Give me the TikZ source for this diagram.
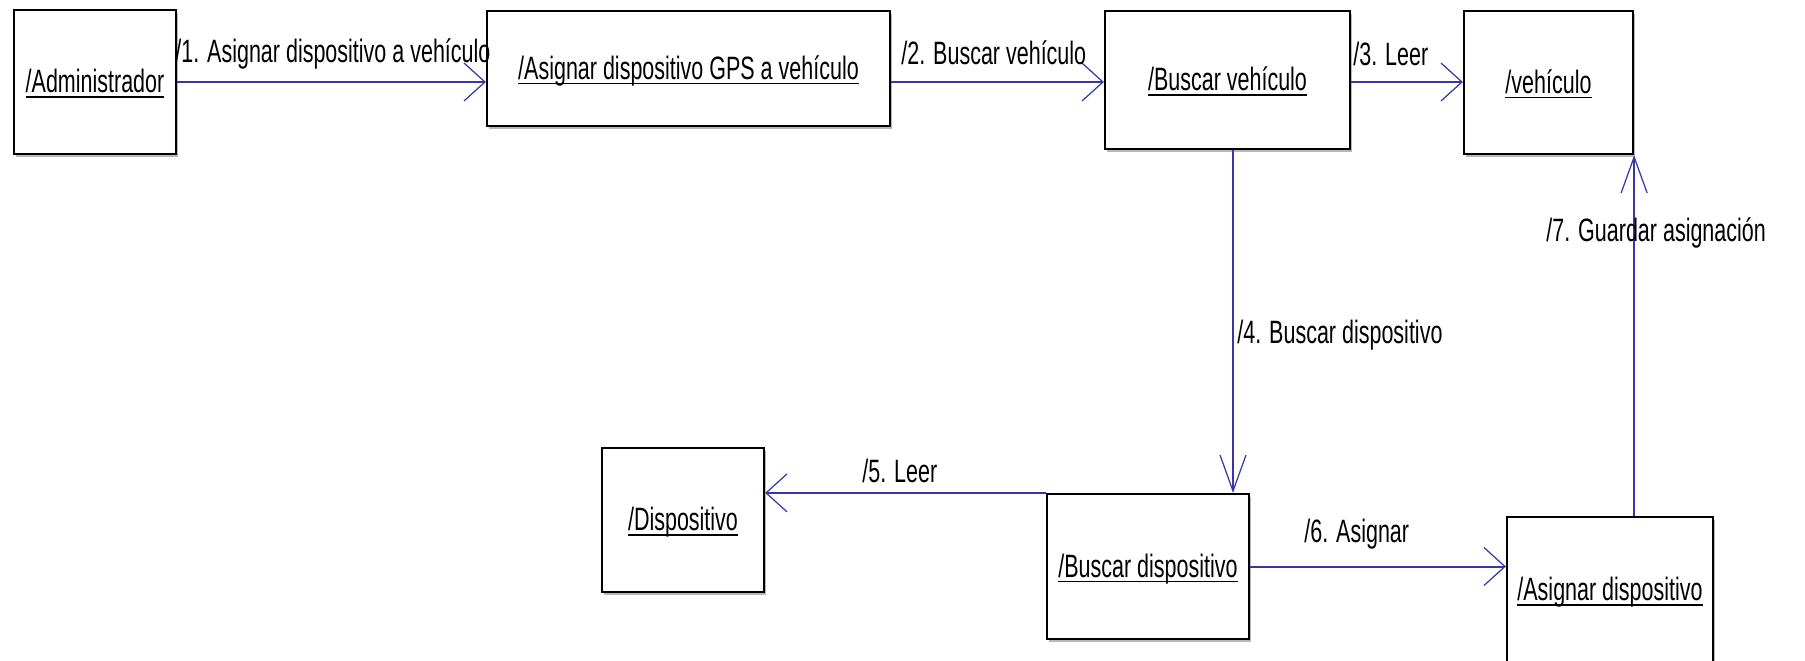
\documentclass[tikz,border=0pt]{standalone}
\usepackage{fontspec}
\setmainfont[FakeStretch=0.665]{Liberation Sans}
\usetikzlibrary{arrows.meta,shadows}
\definecolor{msgline}{RGB}{55,55,165}
% object name, underlined with a rule of fixed depth below the baseline
\newcommand\uname[1]{\setbox0=\hbox{#1}\dp0=0pt\vtop{\copy0\kern2pt\hrule height 1.1pt}}
\newcommand\diagfont{\fontsize{18.4}{21}\selectfont}
\begin{document}
\begin{tikzpicture}[x=0.02cm,y=-0.02cm,
  obj/.style={rectangle, draw=black, line width=1.3pt, fill=white, inner sep=0pt,
    text height=0.5cm, text depth=0.08cm, font=\diagfont,
    drop shadow={shadow xshift=1.2pt, shadow yshift=-1.6pt, opacity=0.28, fill=black}},
  msg/.style={draw=msgline, line width=1.15pt},
  hArrow/.style={-{Straight Barb[length=0.42cm,width=0.76cm,line width=0.7pt]}},
  vArrow/.style={-{Straight Barb[length=0.72cm,width=0.52cm,line width=0.7pt]}},
  lbl/.style={anchor=base west, inner sep=0pt, font=\diagfont}]

\clip (0,0) rectangle (1805,660);
\fill[white] (0,0) rectangle (1805,660);

% objects
\node[obj, minimum width=3.24cm, minimum height=2.88cm] (adm)   at (95,82)      {\uname{/Administrador}};
\node[obj, minimum width=8.06cm, minimum height=2.30cm] (asg)   at (688.5,68.5) {\uname{/Asignar dispositivo GPS a vehículo}};
\node[obj, minimum width=4.90cm, minimum height=2.76cm] (bveh)  at (1227.5,80)  {\uname{/Buscar vehículo}};
\node[obj, minimum width=3.38cm, minimum height=2.86cm] (veh)   at (1548.5,82.5){\uname{/vehículo}};
\node[obj, minimum width=3.24cm, minimum height=2.88cm] (disp)  at (683,520)    {\uname{/Dispositivo}};
\node[obj, minimum width=4.04cm, minimum height=2.90cm] (bdisp) at (1148,566.5) {\uname{/Buscar dispositivo}};
\node[obj, minimum width=4.12cm, minimum height=2.92cm] (adisp) at (1610,590)   {\uname{/Asignar dispositivo}};

% messages
\coordinate (row) at (0,82);
\coordinate (col4) at (1233,0);
\draw[msg,hArrow] (row -| adm.east) -- (row -| asg.west);
\draw[msg,hArrow] (row -| asg.east) -- (row -| bveh.west);
\draw[msg,hArrow] (row -| bveh.east) -- (row -| veh.west);
\draw[msg,vArrow] (col4 |- bveh.south) -- (col4 |- bdisp.north);
\draw[msg,hArrow] (bdisp.north west) -- (bdisp.north west -| disp.east);
\draw[msg,hArrow] (bdisp.east) -- (bdisp.east -| adisp.west);
\draw[msg,vArrow] (veh.south east |- adisp.north) -- (veh.south east);

% message labels
\node[lbl] (m1) at (175,62)  {/1. Asignar dispositivo a vehículo};
\node[lbl] (m2) at (901,64)  {/2. Buscar vehículo};
\node[lbl] (m3) at (1353,65) {/3. Leer};
\node[lbl] (m4) at (1237,343) {/4. Buscar dispositivo};
\node[lbl] (m5) at (862,482) {/5. Leer};
\node[lbl] (m6) at (1304,542) {/6. Asignar};
\node[lbl] (m7) at (1546,241) {/7. Guardar asignación};
\end{tikzpicture}
\end{document}
